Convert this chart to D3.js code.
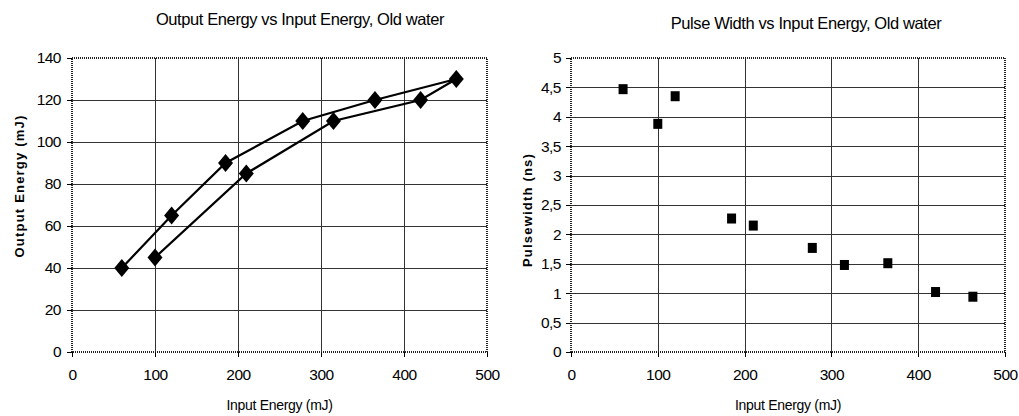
<!DOCTYPE html>
<html>
<head>
<meta charset="utf-8">
<script src="https://cdn.jsdelivr.net/npm/d3@7"></script>
<style>
  body { margin: 0; background: #fff; }
  svg text { font-family: Arial, "Liberation Sans", sans-serif; fill: #000; }
  .grid line { stroke: #333; stroke-width: 1; shape-rendering: crispEdges; }
  .axis path { display: none; }
  .axis line { stroke: #000; shape-rendering: crispEdges; }
  .axis text { font-size: 15.5px; letter-spacing: -0.5px; }
</style>
</head>
<body>
<svg width="1019" height="416"></svg>
<script>
// Input energy (mJ), shared by both charts
var inputEnergy = [60, 100, 120, 185, 210, 278, 315, 365, 420, 463];
// Output energy (mJ) at each input energy
var outputEnergy = [40, 45, 65, 90, 85, 110, 110, 120, 120, 130];
// Order in which the output-energy line is drawn (up one branch, down the other)
var lineOrder = [0, 2, 3, 5, 7, 9, 8, 6, 4, 1];
// Pulse width (ns) at each input energy
var pulseWidth = [4.47, 3.88, 4.35, 2.27, 2.15, 1.77, 1.48, 1.51, 1.02, 0.94];

var xTicks = [0, 100, 200, 300, 400, 500];
var yTicksLeft = [0, 20, 40, 60, 80, 100, 120, 140];
var yTicksRight = [0, 0.5, 1, 1.5, 2, 2.5, 3, 3.5, 4, 4.5, 5];

var svg = d3.select('svg');

function drawFrame(opts) {
    var g = svg.append('g');
    var x = d3.scaleLinear().domain([0, 500]).range([opts.left, opts.right]);
    var y = d3.scaleLinear().domain(opts.yDomain).range([opts.bottom, opts.top]);

    // gridlines
    var grid = g.append('g').attr('class', 'grid');
    grid.selectAll('.gx').data(xTicks.slice(1, -1)).enter().append('line')
        .attr('x1', function(d) { return Math.round(x(d)) + 0.5; })
        .attr('x2', function(d) { return Math.round(x(d)) + 0.5; })
        .attr('y1', opts.top).attr('y2', opts.bottom);
    grid.selectAll('.gy').data(opts.yTicks.slice(1, -1)).enter().append('line')
        .attr('y1', function(d) { return Math.round(y(d)) + 0.5; })
        .attr('y2', function(d) { return Math.round(y(d)) + 0.5; })
        .attr('x1', opts.left).attr('x2', opts.right);

    // hatched plot border
    g.append('rect')
        .attr('x', opts.left).attr('y', opts.top)
        .attr('width', opts.right - opts.left)
        .attr('height', opts.bottom - opts.top)
        .attr('fill', 'none')
        .attr('stroke', '#222')
        .attr('stroke-width', 2)
        .attr('stroke-dasharray', '1,1');

    g.append('g').attr('class', 'axis')
        .attr('transform', 'translate(' + opts.left + ',0)')
        .call(d3.axisLeft(y).tickValues(opts.yTicks).tickSize(5).tickPadding(opts.yPad)
            .tickFormat(opts.fmt));
    g.append('g').attr('class', 'axis')
        .attr('transform', 'translate(0,' + opts.bottom + ')')
        .call(d3.axisBottom(x).tickValues(xTicks).tickSize(5).tickPadding(12));

    g.append('text')
        .attr('x', opts.titleX).attr('y', opts.titleY)
        .attr('text-anchor', 'middle')
        .style('font-size', '16.5px')
        .style('letter-spacing', '-0.4px')
        .text(opts.title);
    g.append('text')
        .attr('x', (opts.left + opts.right) / 2).attr('y', 410)
        .attr('text-anchor', 'middle')
        .style('font-size', '14px')
        .style('letter-spacing', '-0.3px')
        .text('Input Energy (mJ)');
    g.append('text')
        .attr('transform', 'translate(' + opts.yLabelX + ',' + opts.yLabelY + ') rotate(-90)')
        .attr('text-anchor', 'middle')
        .style('font-size', '13px')
        .style('font-weight', 'bold')
        .style('letter-spacing', '1.2px')
        .text(opts.yLabel);

    return {g: g, x: x, y: y};
}

// left chart: output energy
var left = drawFrame({
    left: 72, right: 487, top: 58, bottom: 352,
    yDomain: [0, 140], yTicks: yTicksLeft, yPad: 6,
    fmt: d3.format('d'),
    title: 'Output Energy vs Input Energy, Old water', titleX: 300, titleY: 25,
    yLabel: 'Output Energy (mJ)', yLabelX: 24, yLabelY: 186
});

var line = d3.line()
    .x(function(i) { return left.x(inputEnergy[i]); })
    .y(function(i) { return left.y(outputEnergy[i]); });

left.g.append('path')
    .datum(lineOrder)
    .attr('d', line)
    .attr('fill', 'none')
    .attr('stroke', '#000')
    .attr('stroke-width', 2.2);

left.g.selectAll('.diamond').data(inputEnergy).enter().append('path')
    .attr('class', 'diamond')
    .attr('transform', function(d, i) {
        return 'translate(' + left.x(d) + ',' + left.y(outputEnergy[i]) + ')';
    })
    .attr('d', 'M0,-9L7.5,0L0,9L-7.5,0Z')
    .attr('fill', '#000');

// right chart: pulse width
var right = drawFrame({
    left: 571, right: 1005, top: 58, bottom: 352,
    yDomain: [0, 5], yTicks: yTicksRight, yPad: 5,
    fmt: function(d) { return String(d).replace('.', ','); },
    title: 'Pulse Width vs Input Energy, Old water', titleX: 806, titleY: 29,
    yLabel: 'Pulsewidth (ns)', yLabelX: 532, yLabelY: 210
});

right.g.selectAll('.square').data(inputEnergy).enter().append('rect')
    .attr('class', 'square')
    .attr('x', function(d) { return right.x(d) - 4.5; })
    .attr('y', function(d, i) { return right.y(pulseWidth[i]) - 5; })
    .attr('width', 9)
    .attr('height', 10)
    .attr('fill', '#000');
</script>
</body>
</html>
